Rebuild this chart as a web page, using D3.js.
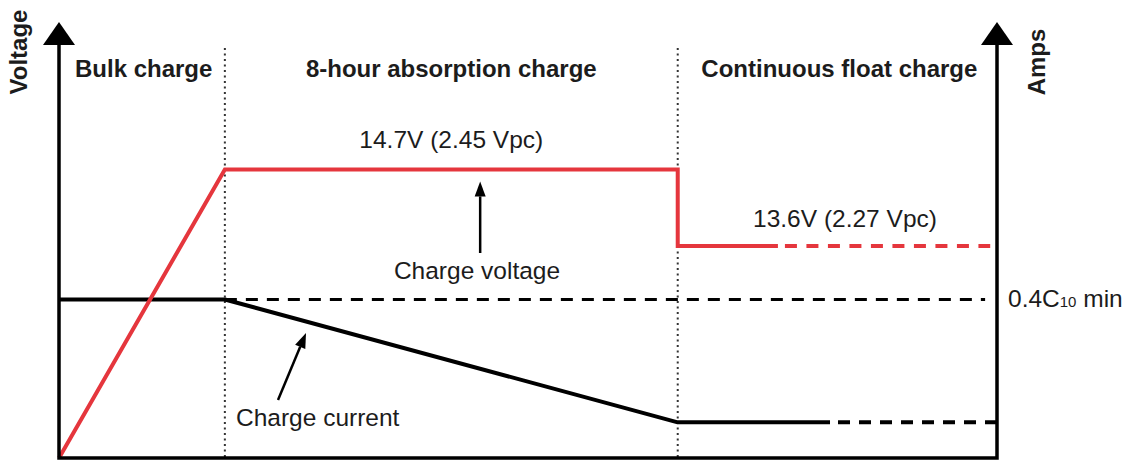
<!DOCTYPE html>
<html>
<head>
<meta charset="utf-8">
<script src="https://cdn.jsdelivr.net/npm/d3@7"></script>
<style>
  body { margin:0; background:#fff; }
  text { font-family: "Liberation Sans", Arial, sans-serif; fill:#1c1c1c; }
</style>
</head>
<body>
<svg id="chart"></svg>
<script>
var width = 1129;
var height = 460;

// phases (hours)
var phaseNames = ["Bulk charge", "8-hour absorption charge", "Continuous float charge"];
var phaseBounds = [0, 2.93, 10.93, 16.57];

// charge voltage (V)
var voltHours = [0, 2.93, 10.93, 10.93, 12.7];
var voltValues = [10.55, 14.7, 14.7, 13.6, 13.6];
var voltDashHours = [12.7, 16.45];
var voltDashValues = [13.6, 13.6];

// charge current (x C10)
var ampHours = [0, 2.93, 10.93, 13.62];
var ampValues = [0.4, 0.4, 0.09, 0.09];
var ampDashHours = [13.62, 16.57];
var ampDashValues = [0.09, 0.09];
var ampMinHours = [2.93, 16.36];
var ampMinValues = [0.4, 0.4];

var red = "#e5363d";
var plotLeft = 59, plotRight = 997, plotBottom = 458, plotTop = 22;

var svg = d3.select("#chart").attr("width", width).attr("height", height);

var x = d3.scaleLinear().domain([0, 16.57]).range([plotLeft, plotRight]);
var yV = d3.scaleLinear().domain([10.55, 16.82]).range([plotBottom, plotTop]);
var yA = d3.scaleLinear().domain([0, 1.1]).range([plotBottom, plotTop]);

function pairs(xs, ys) { return xs.map(function(d, i) { return [d, ys[i]]; }); }

var lineV = d3.line().x(function(d) { return x(d[0]); }).y(function(d) { return yV(d[1]); });
var lineA = d3.line().x(function(d) { return x(d[0]); }).y(function(d) { return yA(d[1]); });

// phase dividers (dotted)
svg.selectAll(".divider")
  .data(phaseBounds.slice(1, 3))
  .enter().append("line")
  .attr("x1", function(d) { return x(d); })
  .attr("x2", function(d) { return x(d); })
  .attr("y1", 48)
  .attr("y2", plotBottom)
  .attr("stroke", "#333")
  .attr("stroke-width", 2)
  .attr("stroke-dasharray", "2,3.5");

// phase titles
svg.selectAll(".phase")
  .data(phaseNames)
  .enter().append("text")
  .attr("x", function(d, i) {
    if (i == 0) return x(phaseBounds[0]) + 16;
    return x(phaseBounds[i]) + (x(phaseBounds[i+1]) - x(phaseBounds[i])) / 2 + (i == 2 ? 2 : 0);
  })
  .attr("y", 77)
  .attr("text-anchor", function(d, i) { return i == 0 ? "start" : "middle"; })
  .attr("font-size", 24)
  .attr("font-weight", "bold")
  .text(function(d) { return d; });

// 0.4C10 min dashed reference
svg.append("path")
  .datum(pairs(ampMinHours, ampMinValues))
  .attr("fill", "none")
  .attr("stroke", "#000")
  .attr("stroke-width", 3)
  .attr("stroke-dasharray", "12,9")
  .attr("d", lineA);

// charge current
svg.append("path")
  .datum(pairs(ampHours, ampValues))
  .attr("fill", "none")
  .attr("stroke", "#000")
  .attr("stroke-width", 4)
  .attr("stroke-linejoin", "round")
  .attr("d", lineA);
svg.append("path")
  .datum(pairs(ampDashHours, ampDashValues))
  .attr("fill", "none")
  .attr("stroke", "#000")
  .attr("stroke-width", 4)
  .attr("stroke-dasharray", "12,9")
  .attr("stroke-dashoffset", -8)
  .attr("d", lineA);

// charge voltage
svg.append("path")
  .datum(pairs(voltHours, voltValues))
  .attr("fill", "none")
  .attr("stroke", red)
  .attr("stroke-width", 4)
  .attr("stroke-linejoin", "miter")
  .attr("d", lineV);
svg.append("path")
  .datum(pairs(voltDashHours, voltDashValues))
  .attr("fill", "none")
  .attr("stroke", red)
  .attr("stroke-width", 4)
  .attr("stroke-dasharray", "12,9.5")
  .attr("stroke-dashoffset", -7)
  .attr("d", lineV);

// axes
svg.append("path")
  .attr("d", "M" + plotLeft + ",40V" + plotBottom + "H" + plotRight + "V40")
  .attr("fill", "none")
  .attr("stroke", "#000")
  .attr("stroke-width", 3.5);
[plotLeft, plotRight].forEach(function(ax) {
  svg.append("path")
    .attr("d", "M" + ax + "," + plotTop + "L" + (ax - 16) + ",45L" + (ax + 16) + ",45Z")
    .attr("fill", "#000");
});

svg.append("text")
  .attr("transform", "translate(27,52) rotate(-90)")
  .attr("text-anchor", "middle")
  .attr("font-size", 24)
  .attr("font-weight", "bold")
  .text("Voltage");
svg.append("text")
  .attr("transform", "translate(1045,62) rotate(-90)")
  .attr("text-anchor", "middle")
  .attr("font-size", 24)
  .attr("font-weight", "bold")
  .text("Amps");

// value labels
svg.append("text")
  .attr("x", x((phaseBounds[1] + phaseBounds[2]) / 2))
  .attr("y", yV(14.7) - 21)
  .attr("text-anchor", "middle")
  .attr("font-size", 24.5)
  .text("14.7V (2.45 Vpc)");
svg.append("text")
  .attr("x", 845)
  .attr("y", yV(13.6) - 19)
  .attr("text-anchor", "middle")
  .attr("font-size", 24.5)
  .text("13.6V (2.27 Vpc)");

var minLabel = svg.append("text")
  .attr("x", 1008)
  .attr("y", yA(0.4) + 8)
  .attr("font-size", 24.5);
minLabel.append("tspan").text("0.4C");
minLabel.append("tspan").attr("font-size", 15).text("10");
minLabel.append("tspan").text(" min");

// annotation arrows
function arrow(x1, y1, x2, y2) {
  var ang = Math.atan2(y2 - y1, x2 - x1);
  var len = 15, hw = 5.5;
  var bx = x2 - len * Math.cos(ang), by = y2 - len * Math.sin(ang);
  svg.append("line")
    .attr("x1", x1).attr("y1", y1).attr("x2", bx).attr("y2", by)
    .attr("stroke", "#000").attr("stroke-width", 2.5);
  svg.append("path")
    .attr("d", "M" + x2 + "," + y2 +
      "L" + (bx + hw * Math.sin(ang)) + "," + (by - hw * Math.cos(ang)) +
      "L" + (bx - hw * Math.sin(ang)) + "," + (by + hw * Math.cos(ang)) + "Z")
    .attr("fill", "#000");
}
arrow(x(7.44), 253, x(7.44), yV(14.7) + 12);
arrow(278, 400, 306, 333);

svg.append("text")
  .attr("x", 477)
  .attr("y", 279)
  .attr("text-anchor", "middle")
  .attr("font-size", 24.5)
  .text("Charge voltage");
svg.append("text")
  .attr("x", 236)
  .attr("y", 426)
  .attr("font-size", 24.5)
  .text("Charge current");
</script>
</body>
</html>
